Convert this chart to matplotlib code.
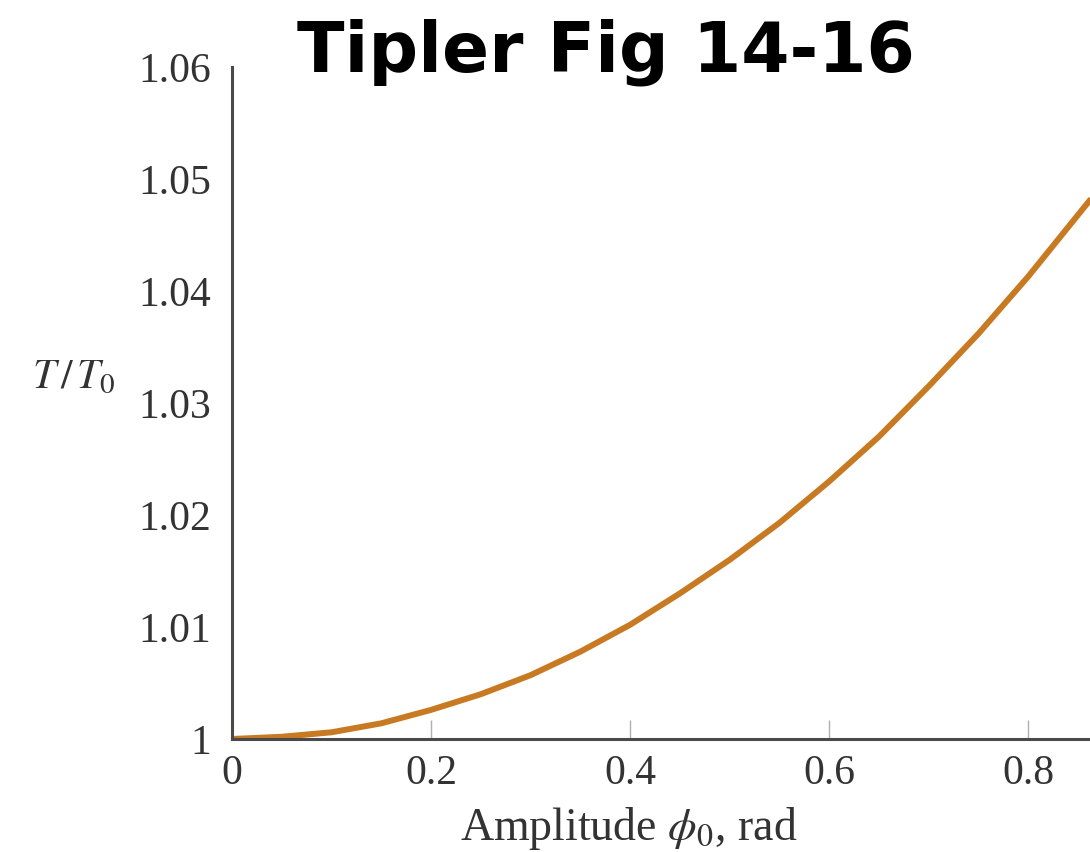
import matplotlib.pyplot as plt
import numpy as np

# amplitude phi0 (rad) and period ratio T/T0
phi0 = [0.0, 0.05, 0.10, 0.15, 0.20, 0.25, 0.30, 0.35, 0.40, 0.45,
        0.50, 0.55, 0.60, 0.65, 0.70, 0.75, 0.80, 0.85, 0.87]
ratio = [1.0000, 1.0002, 1.0006, 1.0014, 1.0026, 1.0040, 1.0057, 1.0078, 1.0102, 1.0130,
         1.0160, 1.0193, 1.0230, 1.0270, 1.0315, 1.0362, 1.0413, 1.0468, 1.0490]

xticks = [0, 0.2, 0.4, 0.6, 0.8]
xticklabels = ["0", "0.2", "0.4", "0.6", "0.8"]
yticks = [1.0, 1.01, 1.02, 1.03, 1.04, 1.05, 1.06]
yticklabels = ["1", "1.01", "1.02", "1.03", "1.04", "1.05", "1.06"]

plt.rcParams["mathtext.fontset"] = "stix"
serif = "Liberation Serif"
txt = "#333333"

fig = plt.figure(figsize=(10.9, 8.52), dpi=100)
ax = fig.add_axes([232 / 1090, 1 - 739 / 852, 1 - 232 / 1090, (739 - 67) / 852])

ax.plot(phi0, ratio, "-", color="#c87a22", lw=4.3, solid_capstyle="butt",
        solid_joinstyle="round")

ax.set_xlim(0, 0.862)
ax.set_ylim(1.0, 1.06)
ax.spines["top"].set_visible(False)
ax.spines["right"].set_visible(False)
for s in ["left", "bottom"]:
    ax.spines[s].set_color("#4a4a4a")
    ax.spines[s].set_linewidth(2.2)

ax.set_xticks(xticks)
ax.set_xticklabels(xticklabels, family=serif, fontsize=30, color=txt)
ax.set_yticks(yticks)
ax.set_yticklabels(yticklabels, family=serif, fontsize=30, color=txt)
ax.tick_params(axis="x", direction="in", length=14, width=1, color="#b0b0b0", pad=11)
ax.tick_params(axis="y", length=0, pad=15)

fig.text(74 / 1090, 1 - 376 / 852, r"$T\,/\,T_0$", fontsize=30, color=txt,
         ha="center", va="center")
fig.text(629 / 1090, 1 - 828 / 852, r"Amplitude $\phi_0$, rad", family=serif,
         fontsize=33, color=txt, ha="center", va="center")

fig.text(606 / 1090, 1 - 72 / 852, "Tipler Fig 14-16", family="DejaVu Sans",
         fontweight="bold", fontsize=50, color="black", ha="center", va="baseline")

fig.savefig("out.png", dpi=100)
